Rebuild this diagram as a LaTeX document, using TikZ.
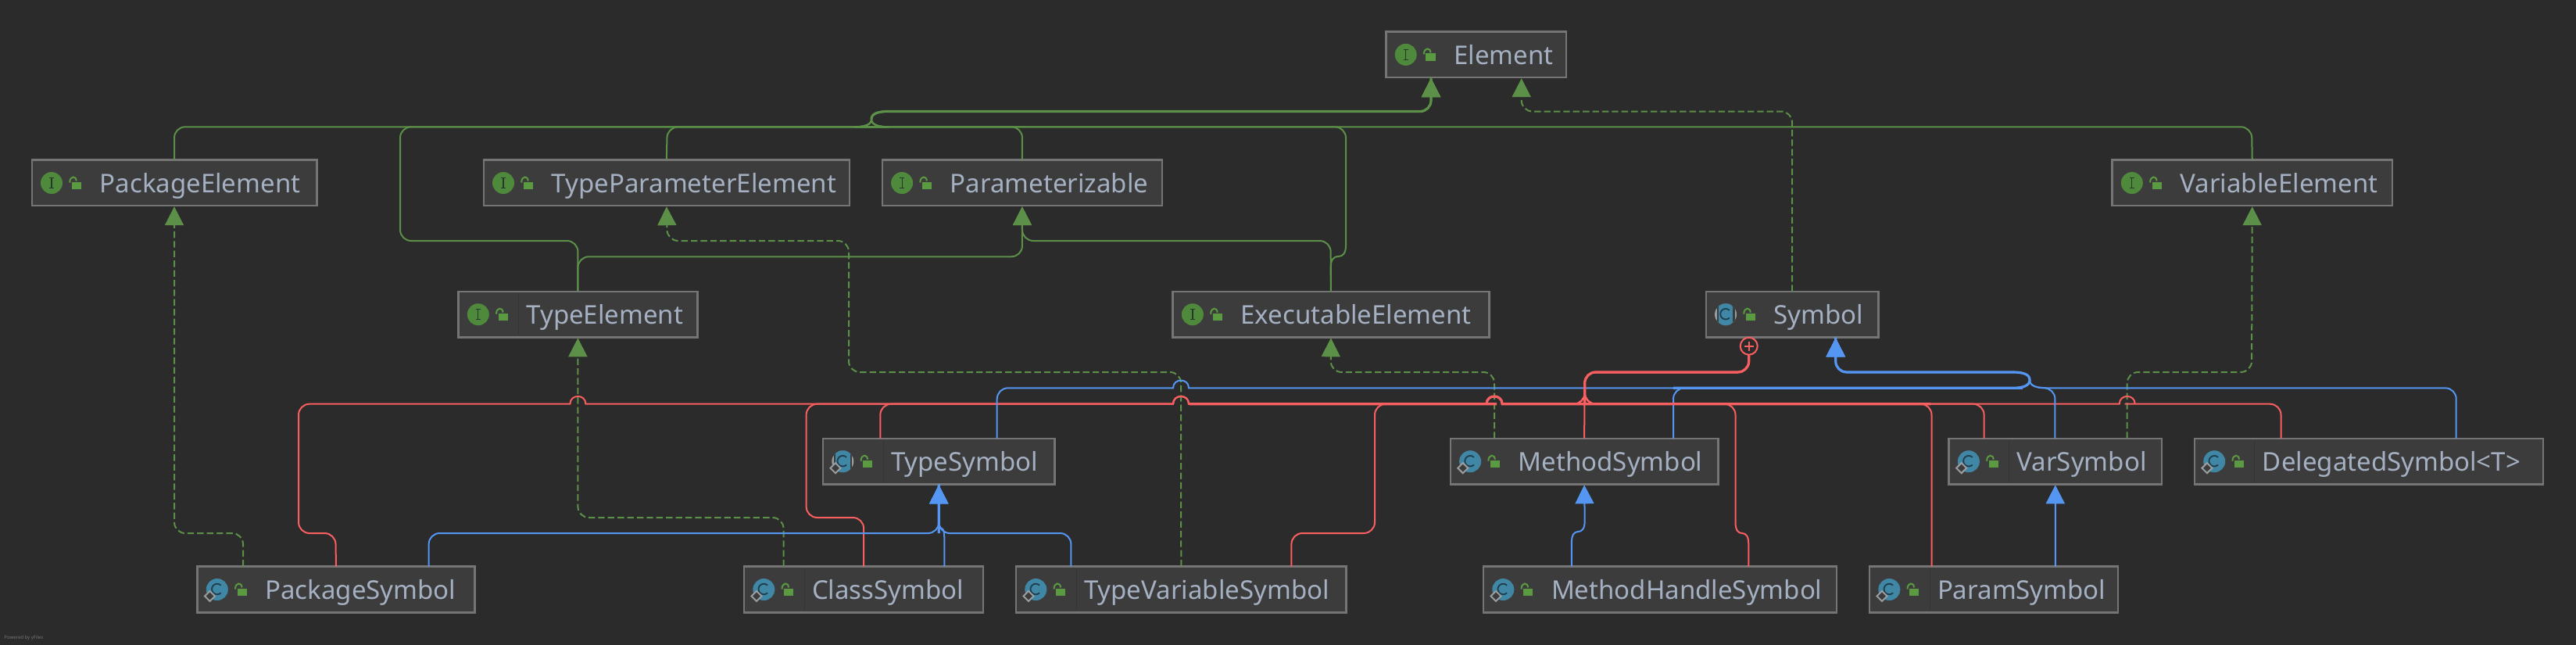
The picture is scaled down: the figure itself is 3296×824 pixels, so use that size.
\documentclass[tikz,border=0pt]{standalone}
\usepackage{fontspec}
\setmainfont{Noto Sans}
\usetikzlibrary{arrows.meta}
\definecolor{bgc}{HTML}{2B2B2B}
\definecolor{nfill}{HTML}{3C3C3C}
\definecolor{nline}{HTML}{757575}
\definecolor{ntext}{HTML}{A5B1C3}
\definecolor{gline}{HTML}{5C9048}
\definecolor{rline}{HTML}{F95F60}
\definecolor{bline}{HTML}{5596F2}
\definecolor{igreen}{HTML}{4F8A3C}
\definecolor{lgreen}{HTML}{5A9A40}
\definecolor{iteal}{HTML}{3F87A5}
\definecolor{idark}{HTML}{24382B}
\definecolor{cdark}{HTML}{1F3D4D}
\definecolor{igrey}{HTML}{9A9DA0}
\definecolor{divc}{HTML}{343434}
\tikzset{
  umlbox/.style={draw=nline,fill=nfill,line width=1.2pt,inner sep=0pt,outer sep=0pt,anchor=north west,
    text=ntext,text height=12.4pt,text depth=0pt,font=\fontsize{16.5pt}{20pt}\selectfont},
  edgebase/.style={line width=1pt,rounded corners=7pt},
  tipped/.style={-{Triangle[length=12pt,width=12pt]},shorten >=0.5pt},
  gsolid/.style={edgebase,tipped,draw=gline,color=gline},
  gdash/.style={edgebase,tipped,draw=gline,color=gline,dash pattern=on 4.2pt off 2pt},
  bedge/.style={edgebase,tipped,draw=bline,color=bline},
  redge/.style={edgebase,draw=rline},
  trunk/.style={line width=1.6pt,rounded corners=7pt},
}
\newcommand{\umlnode}[7]{%
  \pgfmathsetmacro\uw{(#4-#2)/2}\pgfmathsetmacro\uh{(#5-#3)/2}%
  \node[umlbox,minimum width=\uw pt,minimum height=\uh pt] (#1) at (#2,#3)
    {\makebox[\uw pt][l]{\hspace{43.5pt}#7}};%
  \begin{scope}[shift={(#1.north west)}]#6\end{scope}}
\newcommand{\locksym}{%
  \fill[lgreen] (51,28) rectangle (63.3,37.5);
  \draw[lgreen,line width=1pt] (48.5,29) .. controls (48.5,20) and (57,20) .. (57,27);}
\newcommand{\divsym}{\draw[divc,line width=.5pt] (77,2) -- (77,56.5);}
\newcommand{\iface}{%
  \fill[igreen] (25.3,29.5) circle[radius=7pt];
  \draw[idark,line width=.6pt] (25.3,23) -- (25.3,36) (22.5,23) -- (28.1,23) (22.5,36) -- (28.1,36);
  \locksym}
\newcommand{\csym}{\draw[cdark,line width=.9pt] ([shift={(45:3.4pt)}]25.3,29) arc[start angle=45,end angle=315,radius=3.4pt];}
\newcommand{\diasym}{\draw[igrey,fill=nfill,line width=1pt] (16,31.5) -- (22.5,38) -- (16,44.5) -- (9.5,38) -- cycle;}
\newcommand{\cls}{\fill[iteal] (25.3,29.5) circle[radius=7pt];\csym\diasym\locksym}
\newcommand{\absband}{%
  \fill[igrey] (25.3,29.5) circle[radius=7pt];
  \begin{scope}
    \clip (25.3,29.5) circle[radius=7pt];
    \fill[nfill] (13.8,10) rectangle (36.8,50);
    \fill[iteal] (16,10) rectangle (34.6,50);
  \end{scope}\csym}
% line hop, going rightwards over a crossing line
\newcommand{\hopat}[2]{[sharp corners] -- (#1-10,#2) .. controls (#1-10,#2-13) and (#1+10,#2-13) .. (#1+10,#2) -- (#1+11,#2) [rounded corners=7pt]}
% horizontal bus y1 -> short rise at x -> horizontal y2; #4,#5 = direction (+1/-1) of arrival and departure side
\newcommand{\forkat}[5]{[sharp corners] -- (#1+#4*22,#2) .. controls (#1+#4*8,#2) and (#1,{#2+(#3-#2)*.15}) .. (#1,{(#2+#3)/2}) .. controls (#1,{#3-(#3-#2)*.15}) and (#1+#5*8,#3) .. (#1+#5*22,#3) -- (#1+#5*23,#3) [rounded corners=7pt]}
% vertical line going up at x1, sideways step at ymid, on at x2
\newcommand{\stepat}[3]{[sharp corners] -- (#1,#3+14) .. controls (#1,#3+4) and ({#1+(#2-#1)*.2},#3) .. ({(#1+#2)/2},#3) .. controls ({#2-(#2-#1)*.2},#3) and (#2,#3-4) .. (#2,#3-14) -- (#2,#3-15) [rounded corners=7pt]}
\newcommand{\greenT}{\forkat{1115}{162.3}{142.5}{1}{1} -- (1831,142.5) -- (Element.south -| 1831,0)}
\newcommand{\greenTl}{\forkat{1115}{162.3}{142.5}{-1}{1} -- (1831,142.5) -- (Element.south -| 1831,0)}
\newcommand{\redT}{-- (2027.7,516.7) -- (2027.7,476) -- (2237.7,476) -- (plus.south)}
\newcommand{\blueTl}{\forkat{2597}{496.3}{476}{-1}{-1} -- (2348.7,476) -- (Symbol.south -| 2348.7,0)}
\newcommand{\blueTr}{\forkat{2597}{496.3}{476}{1}{-1} -- (2348.7,476) -- (Symbol.south -| 2348.7,0)}
\begin{document}
\begin{tikzpicture}[x=0.5pt,y=-0.5pt]
\useasboundingbox (0,0) rectangle (3296,824);
\fill[bgc] (-6,-6) rectangle (3302,830);
% nodes
\umlnode{Element}{1773.4}{40.4}{2004}{99.2}{\iface}{Element}
\umlnode{PackageElement}{40.7}{204.5}{405.3}{263.2}{\iface}{PackageElement}
\umlnode{TypeParameterElement}{618.7}{204.5}{1087}{263.2}{\iface}{TypeParameterElement}
\umlnode{Parameterizable}{1128.8}{204.5}{1487}{263.2}{\iface}{Parameterizable}
\umlnode{VariableElement}{2702.5}{204.5}{3061}{263.2}{\iface}{VariableElement}
\umlnode{TypeElement}{586.5}{372.7}{892.3}{431.3}{\divsym\iface}{TypeElement}
\umlnode{ExecutableElement}{1500.6}{372.7}{1905.3}{431.3}{\iface}{ExecutableElement}
\umlnode{Symbol}{2182.7}{372.7}{2403.5}{431.3}{\absband\locksym}{Symbol}
\umlnode{TypeSymbol}{1053}{560.7}{1349.4}{619.3}{\divsym\absband\diasym\locksym}{TypeSymbol}
\umlnode{MethodSymbol}{1855.8}{560.7}{2198.4}{619.3}{\cls}{MethodSymbol}
\umlnode{VarSymbol}{2493.6}{560.7}{2765.9}{619.3}{\divsym\cls}{VarSymbol}
\umlnode{DelegatedSymbol}{2807.9}{560.7}{3254}{619.3}{\divsym\cls}{DelegatedSymbol<T>}
\umlnode{PackageSymbol}{252.5}{724.5}{607.5}{783.3}{\cls}{PackageSymbol}
\umlnode{ClassSymbol}{952}{724.5}{1258}{783.3}{\divsym\cls}{ClassSymbol}
\umlnode{TypeVariableSymbol}{1300}{724.5}{1722.5}{783.3}{\divsym\cls}{TypeVariableSymbol}
\umlnode{MethodHandleSymbol}{1898}{724.5}{2350.2}{783.3}{\cls}{MethodHandleSymbol}
\umlnode{ParamSymbol}{2392}{724.5}{2710}{783.3}{\divsym\cls}{ParamSymbol}
\node[circle,draw=rline,fill=bgc,line width=1pt,minimum size=11pt,inner sep=0pt,outer sep=0pt] (plus) at (2237.7,442.7) {};
\draw[rline,line width=.8pt] (plus.center) ++(-6,0) -- ++(12,0) (plus.center) ++(0,-6) -- ++(0,12);
% green solid, to Element
\draw[gsolid] (PackageElement.north) -- (223,162.3) \greenT;
\draw[gsolid] (TypeElement.north) -- (739.4,308) -- (512,308) -- (512,162.3) \greenT;
\draw[gsolid] (TypeParameterElement.north) -- (853.7,162.3) \greenT;
\draw[gsolid] (Parameterizable.north) -- (1308,162.3) \greenTl;
\draw[gsolid] (ExecutableElement.north) \stepat{1702.6}{1722}{328} -- (1722,162.3) \greenTl;
\draw[gsolid] (VariableElement.north) -- (2881,162.3) \greenTl;
% green solid, to Parameterizable
\draw[gsolid] (TypeElement.north) -- (739.4,328.3) -- (1308,328.3) -- (Parameterizable.south);
\draw[gsolid] (ExecutableElement.north) -- (1702.6,308) -- (1308,308) -- (Parameterizable.south);
% green dashed
\draw[gdash] (Symbol.north) -- (2293,142.5) -- (1946.7,142.5) -- (Element.south -| 1946.7,0);
\draw[gdash] (PackageSymbol.north -| 311,0) -- (311,682) -- (223,682) -- (PackageElement.south);
\draw[gdash] (TypeVariableSymbol.north) -- (1511,476) -- (1086,476) -- (1086,308) -- (853.7,308) -- (TypeParameterElement.south);
\draw[gdash] (ClassSymbol.north -| 1002.5,0) -- (1002.5,662) -- (739.4,662) -- (TypeElement.south);
\draw[gdash] (MethodSymbol.north -| 1912,0) -- (1912,476) -- (1702.6,476) -- (ExecutableElement.south);
\draw[gdash] (VarSymbol.north -| 2721.7,0) -- (2721.7,476) -- (2881,476) -- (VariableElement.south);
% red, to Symbol (composition)
\draw[redge] (PackageSymbol.north) -- (429.3,682) -- (382,682) -- (382,516.7) \hopat{739.4}{516.7} \hopat{1511}{516.7} \hopat{1912}{516.7} \redT;
\draw[redge] (ClassSymbol.north) -- (1105.2,662) -- (1031.6,662) -- (1031.6,516.7) \hopat{1511}{516.7} \hopat{1912}{516.7} \redT;
\draw[redge] (TypeSymbol.north -| 1126.3,0) -- (1126.3,516.7) \hopat{1511}{516.7} \hopat{1912}{516.7} \redT;
\draw[redge] (TypeVariableSymbol.north -| 1652.4,0) -- (1652.4,682) -- (1759,682) -- (1759,516.7) \hopat{1912}{516.7} \redT;
\draw[redge] (MethodSymbol.north) -- (2027.7,476) -- (2237.7,476) -- (plus.south);
\draw[redge] (MethodHandleSymbol.north -| 2237.3,0) \stepat{2237.3}{2220.5}{682} -- (2220.5,516.7) \redT;
\draw[redge] (ParamSymbol.north -| 2471.5,0) -- (2471.5,516.7) \redT;
\draw[redge] (VarSymbol.north -| 2538.6,0) -- (2538.6,516.7) \redT;
\draw[redge] (DelegatedSymbol.north -| 2918.5,0) -- (2918.5,516.7) -- (2732.7,516.7) [sharp corners] -- (2731.7,516.7) .. controls (2731.7,503.7) and (2711.7,503.7) .. (2711.7,516.7) -- (2710.7,516.7) [rounded corners=7pt] \redT;
% blue, to Symbol
\draw[bedge] (TypeSymbol.north -| 1275.7,0) -- (1275.7,496.3) \hopat{1511}{496.3} \blueTl;
\draw[bedge] (MethodSymbol.north -| 2141,0) -- (2141,496.3) \blueTl;
\draw[bedge] (VarSymbol.north -| 2629.4,0) -- (2629.4,496.3) \blueTr;
\draw[bedge] (DelegatedSymbol.north -| 3142.7,0) -- (3142.7,496.3) \blueTr;
% blue, to TypeSymbol
\draw[bedge] (PackageSymbol.north -| 548.6,0) -- (548.6,682) -- (1201.3,682) -- (TypeSymbol.south);
\draw[bedge] (ClassSymbol.north -| 1208.3,0) \stepat{1208.3}{1201.3}{676} -- (TypeSymbol.south);
\draw[bedge] (TypeVariableSymbol.north -| 1370.4,0) -- (1370.4,682) -- (1201.3,682) -- (TypeSymbol.south);
% blue, others
\draw[bedge] (MethodHandleSymbol.north -| 2010.9,0) \stepat{2010.9}{2027.7}{680} -- (MethodSymbol.south);
\draw[bedge] (ParamSymbol.north -| 2629.9,0) -- (VarSymbol.south);
% shared trunks, where many edges lie on top of each other
\coordinate (gj) at (1115,152.4);
\coordinate (rj) at (1522,516.7);
\coordinate (bj) at (2141,496.3);
\draw[gline,trunk] (gj) [sharp corners] .. controls (1115,145.5) and (1123,142.5) .. (1137,142.5) -- (1138,142.5) [rounded corners=7pt] -- (1831,142.5) -- (Element.south -| 1831,0);
\draw[rline,trunk] (rj) -- (1901,516.7) [sharp corners] -- (1902,516.7) .. controls (1902,503.7) and (1922,503.7) .. (1922,516.7) -- (1923,516.7) [rounded corners=7pt] -- (2470,516.7);
\draw[rline,trunk] (2027.7,516.7) -- (2027.7,476) -- (2237.7,476) -- (plus.south);
\draw[bline,trunk] (bj) -- (2574,496.3) [sharp corners] -- (2575,496.3) .. controls (2589,496.3) and (2597,493) .. (2597,486) .. controls (2597,479) and (2589,476) .. (2575,476) -- (2574,476) [rounded corners=7pt] -- (2348.7,476) -- (Symbol.south -| 2348.7,0);
\draw[bline,trunk] (1201.3,682) -- (TypeSymbol.south);
\node[anchor=west,inner sep=0pt,text=nline,font=\fontsize{3pt}{4pt}\selectfont] (yfiles) at (5,816) {Powered by yFiles};
\end{tikzpicture}
\end{document}
